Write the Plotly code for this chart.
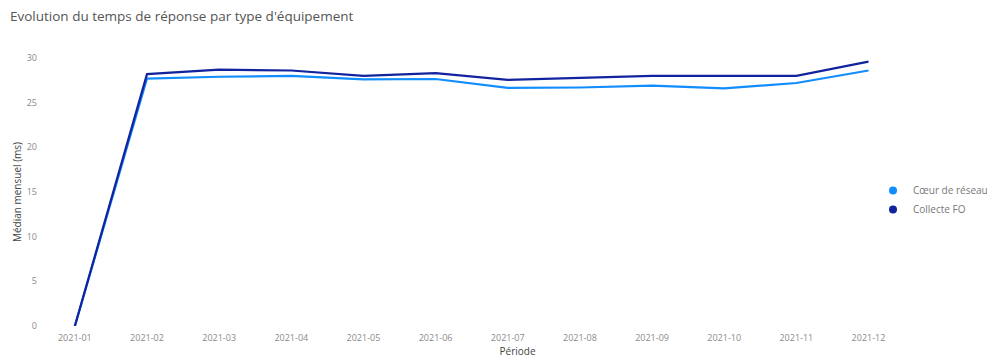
import plotly.graph_objects as go

periods = ["2021-01", "2021-02", "2021-03", "2021-04", "2021-05", "2021-06",
           "2021-07", "2021-08", "2021-09", "2021-10", "2021-11", "2021-12"]
coeur_reseau = [0, 27.7, 27.9, 28.0, 27.6, 27.65, 26.65, 26.7, 26.9, 26.6, 27.2, 28.6]
collecte_fo = [0, 28.2, 28.7, 28.6, 28.0, 28.3, 27.55, 27.8, 28.0, 28.0, 28.0, 29.6]

series = [
    ("Cœur de réseau", coeur_reseau, "#118DFF"),
    ("Collecte FO", collecte_fo, "#12239E"),
]

FONT = "Segoe UI, Open Sans, sans-serif"

fig = go.Figure()
for name, values, color in series:
    fig.add_trace(go.Scatter(
        x=list(range(len(periods))), y=values, mode="lines", name=name,
        line=dict(color=color, width=2.2), showlegend=False,
    ))
# legend entries with round markers, like the original
for name, _, color in series:
    fig.add_trace(go.Scatter(
        x=[None], y=[None], mode="markers", name=name,
        marker=dict(color=color, size=8, symbol="circle"),
    ))

# the page puts the figure 8px in from the top-left corner.
# plot area runs to the right edge so the legend sits inside it and
# doesn't push the margin; the x range leaves the empty space on the right
fig.update_layout(
    width=987, height=350,
    margin=dict(l=38, r=2, t=50, b=32),
    paper_bgcolor="white", plot_bgcolor="white",
    font=dict(family=FONT, size=9, color="#8a8a8a"),
    title=dict(text="Evolution du temps de réponse par type d'équipement",
               x=0.002, xanchor="left", y=0.976, yanchor="middle",
               font=dict(family=FONT, size=13.5, color="#555555")),
    legend=dict(x=0.877, xanchor="left", y=0.47, yanchor="middle",
                font=dict(size=10, color="#777777"), itemwidth=30,
                tracegroupgap=4, bgcolor="rgba(0,0,0,0)"),
    xaxis=dict(
        tickmode="array", tickvals=list(range(len(periods))), ticktext=periods,
        range=[-0.4, 12.67], showgrid=False, zeroline=False, showline=False,
        title=dict(text="Période", standoff=3, font=dict(size=10, color="#444444")),
        automargin=False, ticks="", ticklabelstandoff=5,
    ),
    yaxis=dict(
        range=[0, 30], tickvals=[0, 5, 10, 15, 20, 25, 30], showgrid=False,
        zeroline=False, showline=False, ticks="", ticklabelstandoff=8,
        title=dict(text="Médian mensuel (ms)", standoff=3,
                   font=dict(size=10, color="#444444")),
        automargin=False,
    ),
)

fig.write_html("out.html")
